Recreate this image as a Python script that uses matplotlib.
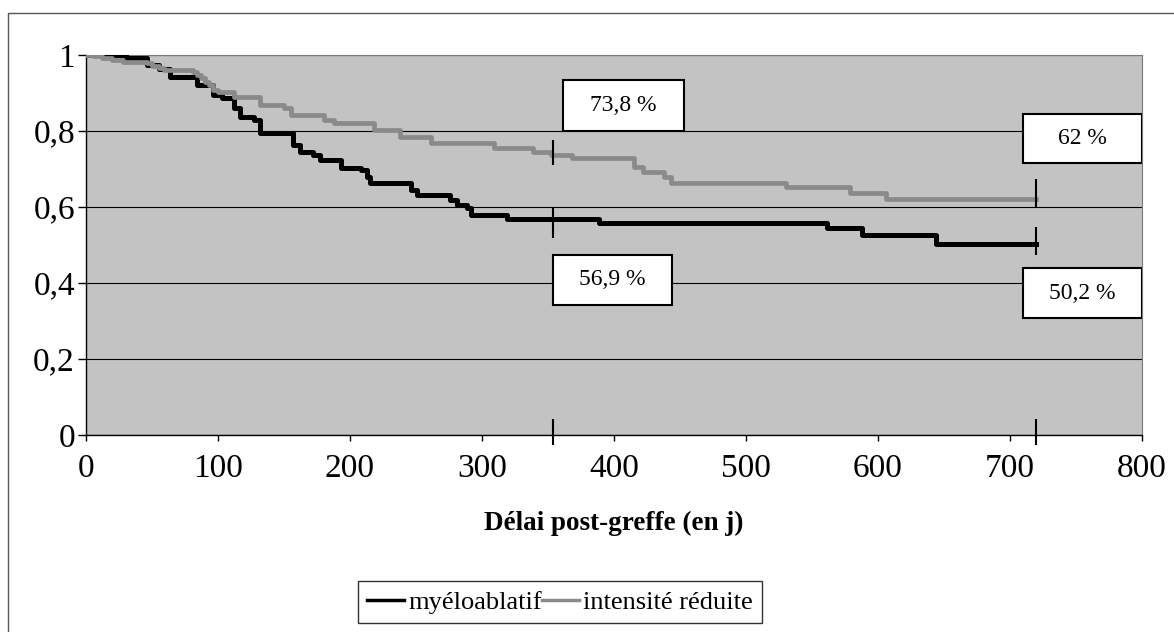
import matplotlib
matplotlib.use('Agg')
import matplotlib.pyplot as plt
from matplotlib.patches import Rectangle
from matplotlib.lines import Line2D

plt.rcParams['font.family'] = ['Liberation Serif', 'DejaVu Serif']

# courbes de survie (temps en jours, survie apres l'evenement)
t_mye = [0, 30, 46, 55, 64, 84, 96, 103, 112, 117, 127, 132, 157, 162, 172, 177,
         193, 208, 213, 215, 246, 251, 276, 281, 289, 292, 319, 389, 561, 588, 644, 720]
s_mye = [1.0, 0.991, 0.975, 0.962, 0.943, 0.921, 0.895, 0.886, 0.860, 0.838, 0.829,
         0.794, 0.763, 0.746, 0.737, 0.724, 0.702, 0.697, 0.680, 0.662, 0.645, 0.632,
         0.618, 0.605, 0.597, 0.579, 0.569, 0.558, 0.545, 0.526, 0.502, 0.502]

t_ric = [0, 5, 12, 20, 28, 46, 50, 55, 59, 81, 84, 87, 90, 93, 96, 100, 112, 132,
         150, 155, 180, 188, 218, 238, 261, 309, 339, 352, 368, 415, 422, 438, 443,
         530, 579, 606, 720]
s_ric = [1.0, 0.997, 0.993, 0.988, 0.982, 0.978, 0.972, 0.966, 0.961, 0.956, 0.947,
         0.94, 0.93, 0.92, 0.908, 0.903, 0.890, 0.868, 0.860, 0.842, 0.829, 0.820,
         0.803, 0.785, 0.768, 0.754, 0.745, 0.738, 0.729, 0.705, 0.692, 0.679, 0.663,
         0.653, 0.637, 0.620, 0.620]

# reperes et etiquettes
mark_t = [354, 720]
labels_ric = ['73,8 %', '62 %']
labels_mye = ['56,9 %', '50,2 %']

xticks = [0, 100, 200, 300, 400, 500, 600, 700, 800]
yticks = [0, 0.2, 0.4, 0.6, 0.8, 1]
ytick_labels = ['0', '0,2', '0,4', '0,6', '0,8', '1']

fig = plt.figure(figsize=(11.74, 6.32), dpi=100)
ax = fig.add_axes([86/1174, 1-435/632, (1142-86)/1174, 380/632])
ax.set_facecolor('#c3c3c3')

ax.step(t_mye, s_mye, where='post', color='black', lw=3.6, zorder=3)
ax.step(t_ric, s_ric, where='post', color='#8a8a8a', lw=3.4, zorder=3)

# traits de censure
ax.vlines(mark_t[0], 0.71, 0.776, color='black', lw=1.5, zorder=4)
ax.vlines(mark_t[1], 0.597, 0.674, color='black', lw=1.5, zorder=4)
ax.vlines(mark_t[0], 0.518, 0.60, color='black', lw=1.5, zorder=4)
ax.vlines(mark_t[1], 0.474, 0.547, color='black', lw=1.5, zorder=4)
for t in mark_t:
    ax.vlines(t, -0.026, 0.042, color='black', lw=1.5, zorder=4, clip_on=False)

# boites des pourcentages
boxes = [(361, 0.80, 92, 0.134, labels_ric[0]),
         (710, 0.716, 90, 0.129, labels_ric[1]),
         (354, 0.342, 90, 0.132, labels_mye[0]),
         (710, 0.307, 90, 0.133, labels_mye[1])]
for x0, y0, w, h, txt in boxes:
    ax.add_patch(Rectangle((x0, y0), w, h, facecolor='white', edgecolor='black',
                           lw=1.5, zorder=5))
    ax.text(x0 + w/2, y0 + h/2, txt, ha='center', va='center', fontsize=17, zorder=6)

ax.set_xlim(0, 800)
ax.set_ylim(0, 1)
ax.set_xticks(xticks)
ax.set_yticks(yticks)
ax.set_yticklabels(ytick_labels)
ax.tick_params(axis='both', labelsize=24, width=1, direction='out')
ax.tick_params(axis='x', length=4, pad=9)
ax.tick_params(axis='y', length=6, pad=2)
ax.yaxis.grid(True, color='black', lw=0.8)
ax.set_axisbelow(True)
for s in ['top', 'right']:
    ax.spines[s].set_color('#7a7a7a')
    ax.spines[s].set_linewidth(0.8)
for s in ['left', 'bottom']:
    ax.spines[s].set_linewidth(1.0)

fig.text(614/1174, 1-523/632, 'Délai post-greffe (en j)', ha='center', va='center',
         fontsize=19.5, fontweight='bold')

handles = [Line2D([], [], color='black', lw=2.5), Line2D([], [], color='#8a8a8a', lw=2.5)]
leg = fig.legend(handles, ['myéloablatif', 'intensité réduite'], loc='center',
                 bbox_to_anchor=(560/1174, 1-602/632), ncol=2, fontsize=19,
                 frameon=True, fancybox=False, handlelength=1.4, handletextpad=0.15,
                 columnspacing=0.0, borderpad=0.35, borderaxespad=0.0)
leg.get_frame().set_edgecolor('black')
leg.get_frame().set_linewidth(1.0)

# cadre exterieur
fig.patches.append(Rectangle((8/1174, -0.1), 1.2, 1-13/632+0.1, transform=fig.transFigure,
                             fill=False, edgecolor='#555555', lw=1.0))

fig.savefig('out.png', dpi=100)
